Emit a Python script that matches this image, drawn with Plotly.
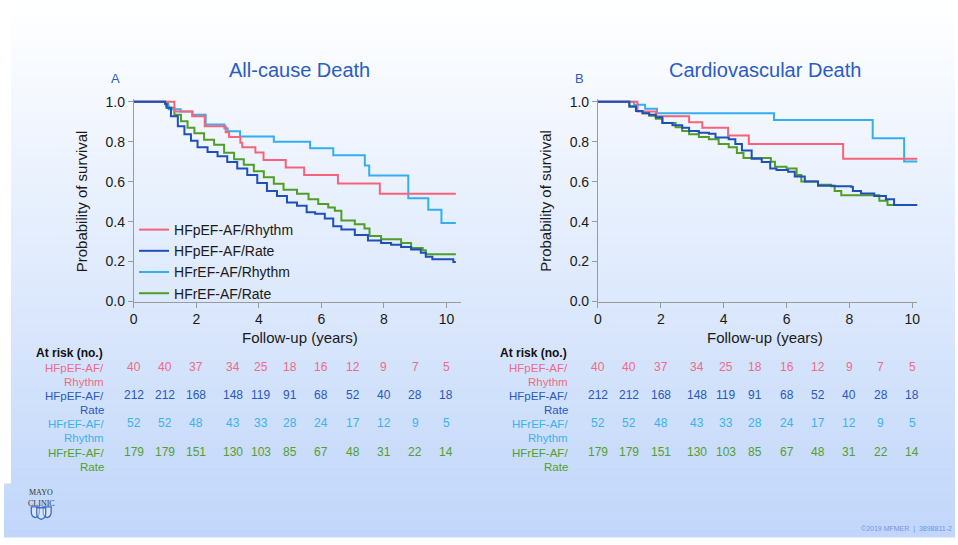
import plotly.graph_objects as go

W, H = 958, 545
FONT = "Liberation Sans, Arial, sans-serif"

# ---------------- data ----------------
series_names = ["HFpEF-AF/Rhythm", "HFpEF-AF/Rate", "HFrEF-AF/Rhythm", "HFrEF-AF/Rate"]
line_colors = ["#f6637b", "#1f4fb8", "#33aef0", "#4e9e27"]
text_colors = ["#f06a86", "#2a58bb", "#3bb2ee", "#52a02b"]

# Panel A: All-cause death (time in years, survival probability)
a_pef_rhythm_t = [0, 1.30, 1.87, 2.27, 2.94, 3.05, 3.41, 3.47, 3.89, 4.15, 4.86, 5.45, 6.53, 7.87, 10.3]
a_pef_rhythm_s = [1.0, 0.951, 0.927, 0.877, 0.848, 0.824, 0.795, 0.772, 0.746, 0.708, 0.671, 0.634, 0.591, 0.539, 0.539]

a_pef_rate_t = [0, 1.0, 1.05, 1.19, 1.41, 1.62, 1.83, 2.04, 2.36, 2.68, 2.99, 3.31, 3.63, 3.95, 4.26, 4.58, 4.90,
                5.22, 5.53, 5.80, 6.11, 6.38, 6.64, 7.07, 7.49, 7.91, 8.23, 8.55, 8.87, 9.18, 9.34, 9.55, 10.22, 10.3]
a_pef_rate_s = [1.0, 0.99, 0.97, 0.927, 0.878, 0.837, 0.805, 0.772, 0.748, 0.727, 0.699, 0.666, 0.634, 0.593, 0.553,
                0.528, 0.496, 0.48, 0.447, 0.439, 0.415, 0.377, 0.361, 0.333, 0.305, 0.293, 0.284, 0.273, 0.26,
                0.244, 0.224, 0.211, 0.198, 0.198]

a_ref_rhythm_t = [0, 1.03, 1.12, 1.50, 1.88, 2.30, 2.90, 3.00, 3.40, 4.48, 5.64, 6.38, 7.39, 7.53, 8.78, 9.42, 9.84, 10.3]
a_ref_rhythm_s = [1.0, 0.98, 0.962, 0.951, 0.935, 0.886, 0.868, 0.852, 0.826, 0.80, 0.767, 0.732, 0.681, 0.631,
                  0.517, 0.459, 0.393, 0.393]

a_ref_rate_t = [0, 1.0, 1.1, 1.30, 1.51, 1.72, 1.94, 2.25, 2.57, 2.89, 3.21, 3.52, 3.84, 4.16, 4.48, 4.79, 5.22,
                5.59, 5.90, 6.22, 6.43, 6.64, 7.07, 7.38, 7.54, 7.91, 8.55, 8.87, 9.24, 9.34, 10.3]
a_ref_rate_s = [1.0, 0.99, 0.97, 0.935, 0.902, 0.870, 0.842, 0.810, 0.785, 0.745, 0.712, 0.685, 0.652, 0.622, 0.59,
                0.56, 0.54, 0.512, 0.488, 0.471, 0.455, 0.406, 0.387, 0.366, 0.328, 0.312, 0.293, 0.268, 0.257,
                0.236, 0.236]

# Panel B: Cardiovascular death
b_pef_rhythm_t = [0, 1.26, 1.85, 2.90, 3.32, 4.14, 4.80, 7.80, 10.2]
b_pef_rhythm_s = [1.0, 0.951, 0.927, 0.898, 0.870, 0.831, 0.788, 0.715, 0.715]

b_pef_rate_t = [0, 1.0, 1.21, 1.42, 1.63, 1.84, 2.05, 2.37, 2.68, 2.90, 3.21, 3.53, 3.74, 4.16, 4.37, 4.58, 4.89,
                5.21, 5.48, 5.68, 6.05, 6.26, 6.58, 7.00, 7.53, 8.05, 8.11, 8.37, 8.79, 9.16, 9.42, 10.2]
b_pef_rate_s = [1.0, 0.976, 0.954, 0.943, 0.935, 0.922, 0.894, 0.883, 0.870, 0.854, 0.845, 0.840, 0.821, 0.813,
                0.788, 0.756, 0.715, 0.699, 0.666, 0.658, 0.650, 0.626, 0.601, 0.580, 0.577, 0.574, 0.553, 0.541,
                0.528, 0.512, 0.483, 0.483]

b_ref_rhythm_t = [0, 1.15, 1.50, 1.88, 5.60, 8.74, 9.74, 10.2]
b_ref_rhythm_s = [1.0, 0.985, 0.965, 0.943, 0.909, 0.817, 0.701, 0.701]

b_ref_rate_t = [0, 1.0, 1.21, 1.42, 1.63, 1.84, 2.05, 2.47, 2.68, 2.90, 3.21, 3.53, 3.84, 4.16, 4.42, 4.63, 5.50,
                5.63, 6.00, 6.32, 6.47, 7.00, 7.42, 7.53, 7.74, 8.95, 9.21, 9.5]
b_ref_rate_s = [1.0, 0.976, 0.954, 0.943, 0.93, 0.915, 0.894, 0.873, 0.854, 0.837, 0.824, 0.813, 0.788, 0.772,
                0.743, 0.718, 0.70, 0.675, 0.666, 0.634, 0.601, 0.585, 0.577, 0.553, 0.532, 0.504, 0.483, 0.483]

# Numbers at risk (same table under both panels)
risk_times = [0, 1, 2, 3, 4, 5, 6, 7, 8, 9, 10]
risk_pef_rhythm = [40, 40, 37, 34, 25, 18, 16, 12, 9, 7, 5]
risk_pef_rate = [212, 212, 168, 148, 119, 91, 68, 52, 40, 28, 18]
risk_ref_rhythm = [52, 52, 48, 43, 33, 28, 24, 17, 12, 9, 5]
risk_ref_rate = [179, 179, 151, 130, 103, 85, 67, 48, 31, 22, 14]
risk_labels = [("HFpEF-AF/", "Rhythm"), ("HFpEF-AF/", "Rate"), ("HFrEF-AF/", "Rhythm"), ("HFrEF-AF/", "Rate")]

x_ticks = [0, 2, 4, 6, 8, 10]
y_ticks = [0.0, 0.2, 0.4, 0.6, 0.8, 1.0]

panel_titles = ["All-cause Death", "Cardiovascular Death"]
panel_letters = ["A", "B"]


# ---------------- helpers ----------------
def px(x):
    return x / W


def py(y):
    return 1 - y / H


fig = go.Figure()

panelA = [(a_pef_rhythm_t, a_pef_rhythm_s), (a_pef_rate_t, a_pef_rate_s),
          (a_ref_rhythm_t, a_ref_rhythm_s), (a_ref_rate_t, a_ref_rate_s)]
panelB = [(b_pef_rhythm_t, b_pef_rhythm_s), (b_pef_rate_t, b_pef_rate_s),
          (b_ref_rhythm_t, b_ref_rhythm_s), (b_ref_rate_t, b_ref_rate_s)]

draw_order = [3, 2, 0, 1]  # green, light blue, pink, dark blue on top
for pi, (panel, xa, ya) in enumerate([(panelA, "x", "y"), (panelB, "x2", "y2")]):
    for k in draw_order:
        t, s = panel[k]
        fig.add_trace(go.Scatter(
            x=t, y=s, mode="lines", line=dict(color=line_colors[k], width=2, shape="hv"),
            name=series_names[k], legendrank=k + 1, showlegend=(pi == 0),
            xaxis=xa, yaxis=ya, hoverinfo="skip"))

# ---------------- background ----------------
shapes = []
n_bands = 60
top = (255, 255, 255)
bot = (192, 214, 250)
for i in range(n_bands):
    f = (i + 0.5) / n_bands
    c = tuple(int(round(top[j] + (bot[j] - top[j]) * f)) for j in range(3))
    shapes.append(dict(type="rect", xref="paper", yref="paper", x0=0, x1=1,
                       y0=1 - (i + 1) / n_bands - 0.001, y1=1 - i / n_bands,
                       fillcolor="rgb(%d,%d,%d)" % c, line=dict(width=0), layer="below"))
shapes.append(dict(type="rect", xref="paper", yref="paper", x0=0, x1=px(7), y0=py(490), y1=1,
                   fillcolor="white", line=dict(width=0), layer="below"))


# Mayo shield logo (decoration)
def shield(cx, y0, w, h, color):
    xl, xr = px(cx - w / 2), px(cx + w / 2)
    yt, ym, yb = py(y0), py(y0 + h * 0.5), py(y0 + h)
    yq = py(y0 + h * 0.9)
    path = (f"M {xl},{yt} L {xr},{yt} L {xr},{ym} Q {xr},{yq} {px(cx)},{yb} "
            f"Q {xl},{yq} {xl},{ym} Z")
    return dict(type="path", xref="paper", yref="paper", path=path,
                line=dict(color=color, width=1.3), fillcolor="rgba(255,255,255,0.35)")


shapes.append(shield(31.5, 514, 8, 11, "#3a6cc8"))
shapes.append(shield(43.5, 514, 8, 11, "#3a6cc8"))
shapes.append(shield(37.5, 515, 9, 12, "#3a6cc8"))

# ---------------- annotations ----------------
ann = []
panel_geo = [dict(x0=130.7, x1=460.0, title_x=298, letter_x=112, ytitle_x=78, xtitle_x=298, label_right=102),
             dict(x0=598.3, x1=920.0, title_x=767, letter_x=580, ytitle_x=546, xtitle_x=767, label_right=569)]

for pi, g in enumerate(panel_geo):
    ann.append(dict(text=panel_titles[pi], x=px(g["title_x"]), y=py(66), xref="paper", yref="paper",
                    showarrow=False, xanchor="center", yanchor="middle",
                    font=dict(family=FONT, size=20, color="#2a5cc2")))
    ann.append(dict(text=panel_letters[pi], x=px(g["letter_x"]), y=py(74), xref="paper", yref="paper",
                    showarrow=False, xanchor="center", yanchor="middle",
                    font=dict(family=FONT, size=13, color="#2a5cc2")))
    ann.append(dict(text="Probability of survival", x=px(g["ytitle_x"]), y=py(200), xref="paper", yref="paper",
                    showarrow=False, textangle=-90, xanchor="center", yanchor="middle",
                    font=dict(family=FONT, size=15, color="#1a1a1a")))
    ann.append(dict(text="Follow-up (years)", x=px(g["xtitle_x"]), y=py(340), xref="paper", yref="paper",
                    showarrow=False, xanchor="center", yanchor="middle",
                    font=dict(family=FONT, size=15, color="#1a1a1a")))
    # at-risk table
    ann.append(dict(text="<b>At risk (no.)</b>", x=px(g["label_right"]), y=py(356), xref="paper", yref="paper",
                    showarrow=False, xanchor="right", yanchor="middle",
                    font=dict(family=FONT, size=12, color="#111111")))
    xref = "x" if pi == 0 else "x2"
    rows = [risk_pef_rhythm, risk_pef_rate, risk_ref_rhythm, risk_ref_rate]
    for r, vals in enumerate(rows):
        ysplit = 378.5 + 29 * r
        l1, l2 = risk_labels[r]
        ann.append(dict(text=l1, x=px(g["label_right"]), y=py(ysplit), xref="paper", yref="paper",
                        showarrow=False, xanchor="right", yanchor="bottom", borderpad=0,
                        font=dict(family=FONT, size=11.5, color=text_colors[r])))
        ann.append(dict(text=l2, x=px(g["label_right"]), y=py(ysplit), xref="paper", yref="paper",
                        showarrow=False, xanchor="right", yanchor="top", borderpad=0,
                        font=dict(family=FONT, size=11.5, color=text_colors[r])))
        for ti, (tt, v) in enumerate(zip(risk_times, vals)):
            ann.append(dict(text=str(v), x=tt, y=py(ysplit), xref=xref, yref="paper",
                            showarrow=False, xanchor="center", yanchor="bottom", borderpad=0,
                            xshift=5 if ti == 3 else (2 if ti == 4 else 0),
                            font=dict(family=FONT, size=12, color=text_colors[r])))

logo_font = dict(family="Liberation Serif, Times New Roman, serif", size=8, color="#333333")
ann.append(dict(text="MAYO", x=px(37.5), y=py(504.5), xref="paper", yref="paper",
                showarrow=False, xanchor="center", yanchor="bottom", borderpad=0, font=logo_font))
ann.append(dict(text="CLINIC", x=px(37.5), y=py(504.5), xref="paper", yref="paper",
                showarrow=False, xanchor="center", yanchor="top", borderpad=0, font=logo_font))
ann.append(dict(text="©2019 MFMER  |  3898811-2", x=px(957), y=py(537), xref="paper", yref="paper",
                showarrow=False, xanchor="right", yanchor="middle",
                font=dict(family=FONT, size=7, color="#6f96e0")))

# ---------------- axes ----------------
ybot, ytop_val = 303.3, 98.3
yr_top = 1.012
ytop_px = ybot - yr_top * (ybot - ytop_val)

axis_common = dict(showline=True, linecolor="#9a9a9a", linewidth=1, ticks="outside", ticklen=5,
                   tickcolor="#9a9a9a", showgrid=False, zeroline=False,
                   tickfont=dict(family=FONT, size=14, color="#1a1a1a"))

layout_axes = {}
for pi, g in enumerate(panel_geo):
    sfx = "" if pi == 0 else "2"
    per_year = 31.5 if pi == 0 else 31.67
    xmax = (g["x1"] - g["x0"]) / per_year
    layout_axes["xaxis" + sfx] = dict(axis_common, domain=[px(g["x0"]), px(g["x1"])], range=[0, xmax],
                                      tickvals=x_ticks, anchor="y" + sfx)
    layout_axes["yaxis" + sfx] = dict(axis_common, domain=[py(ybot), py(ytop_px)], range=[0, yr_top],
                                      tickvals=y_ticks, tickformat=".1f", anchor="x" + sfx)

fig.update_layout(
    width=W, height=H, margin=dict(l=0, r=0, t=0, b=0),
    paper_bgcolor="white", plot_bgcolor="rgba(0,0,0,0)",
    font=dict(family=FONT),
    shapes=shapes, annotations=ann,
    showlegend=True,
    legend=dict(x=px(131), y=py(213.5), xanchor="left", yanchor="top", bgcolor="rgba(0,0,0,0)",
                font=dict(family=FONT, size=14, color="#1a1a1a"), itemwidth=30, tracegroupgap=0),
    **layout_axes,
)

post = (
    "document.documentElement.style.margin='0';document.documentElement.style.padding='0';"
    "document.body.style.margin='0';document.body.style.padding='0';document.body.style.overflow='hidden';"
)
fig.write_html("out.html", config={"displayModeBar": False}, post_script=post)
